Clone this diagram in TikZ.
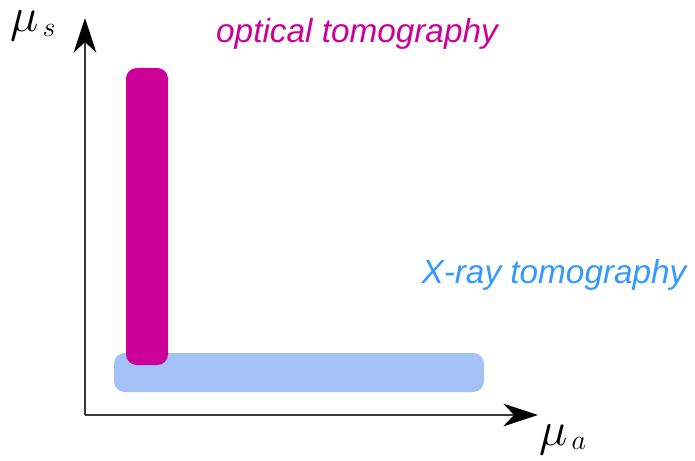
\RequirePackage{fix-cm}
\documentclass[tikz,border=0pt]{standalone}
\usepackage{fontspec}
\setmainfont{Liberation Sans}
\usetikzlibrary{arrows.meta}
\definecolor{OptMagenta}{HTML}{CC0099}
\definecolor{XrayText}{HTML}{3399FF}
\definecolor{XrayBand}{HTML}{A4C2F8}
\definecolor{AxisGray}{HTML}{3A3A3A}
\tikzset{
  axis/.style={draw=AxisGray,line width=1.5pt,
               -{Stealth[length=26pt,width=17pt,inset=8pt,color=black]}},
  band/.style={rounded corners=8pt},
  lbl/.style={font=\fontsize{25}{29}\selectfont\itshape,inner sep=0pt,anchor=base},
  sym/.style={inner sep=0pt,anchor=base west}
}
\newcommand{\qty}[1]{{\fontsize{36}{36}\selectfont$\mu$}\kern3pt{\fontsize{21}{21}\selectfont\raisebox{-3pt}{$#1$}}}

\begin{document}
\begin{tikzpicture}[x=0.75pt,y=-0.75pt]
  \useasboundingbox (0,0) rectangle (695,460);
  % regions
  \fill[XrayBand,band] (114,353) rectangle (484,392);
  \fill[OptMagenta,band] (126,68) rectangle (168,365);
  % axes
  \coordinate (origin) at (85,415);
  \coordinate (ytip) at (85,18);
  \coordinate (xtip) at (538,415);
  \draw[axis] (origin) -- (ytip);
  \draw[axis] (origin) -- (xtip);
  \node[sym] (mus) at (10,32) {\qty{s}};
  \node[sym] (mua) at (539,445) {\qty{a}};
  % labels
  \node[lbl,text=OptMagenta] (opt) at (357,43) {optical tomography};
  \node[lbl,text=XrayText] (xray) at (554,283) {X-ray tomography};
\end{tikzpicture}
\end{document}
